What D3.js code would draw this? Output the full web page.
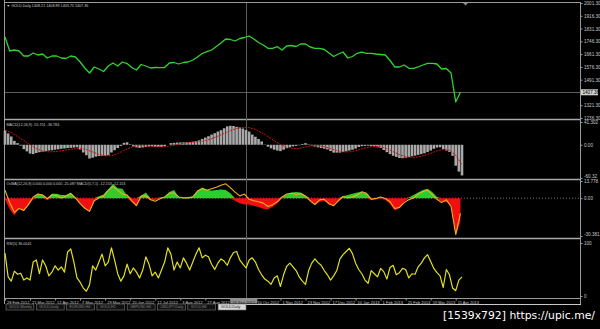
<!DOCTYPE html>
<html lang="en">
<head>
    <meta charset="UTF-8">
    <title>GOLD Daily</title>
    <script src="https://cdn.jsdelivr.net/npm/d3@7"></script>
    <style>
        html, body {
            margin: 0;
            background: #000;
        }
        svg { display: block; }
    </style>
</head>
<body>
<script>

    // daily bars from 28 Feb 2012 to Apr 2013, series sampled every few bars
    var barCount = 293;
    var priceStep = 3, macdStep = 2, signalStep = 4, osmaStep = 3, rsiStep = 2;

    var price = [
        1775.1, 1682.0, 1688.6, 1682.0, 1648.7, 1648.7, 1668.7, 1655.4, 1662.0, 1635.4,
        1648.7, 1648.7, 1635.4, 1632.1, 1648.7, 1642.1, 1608.8, 1568.9, 1535.6, 1575.6,
        1562.2, 1545.6, 1582.2, 1602.2, 1582.2, 1608.8, 1598.8, 1572.2, 1555.6, 1592.2,
        1582.2, 1568.9, 1572.2, 1570.9, 1572.2, 1602.2, 1605.5, 1595.5, 1605.5, 1608.8,
        1622.1, 1642.1, 1665.4, 1677.3, 1688.6, 1711.9, 1735.2, 1761.8, 1758.5, 1748.5,
        1765.1, 1771.8, 1781.8, 1761.8, 1738.5, 1721.9, 1699.9, 1699.9, 1710.6, 1688.6,
        1715.3, 1718.6, 1711.9, 1728.5, 1728.5, 1708.6, 1699.9, 1699.9, 1692.0, 1668.7,
        1645.4, 1662.0, 1675.3, 1635.4, 1645.4, 1666.7, 1675.3, 1666.7, 1666.7, 1662.0,
        1658.7, 1655.4, 1618.8, 1575.6, 1575.6, 1588.9, 1566.9, 1566.9, 1575.6, 1588.9,
        1600.2, 1600.2, 1595.5, 1562.3, 1565.6, 1535.6, 1342.7, 1407.4
    ];

    var macdMain = [
        25.8, 20.5, 15, 7, 3, -1.5, -8, -12, -16, -17,
        -15, -13.5, -12.6, -11.5, -10.5, -10, -9, -8.3, -7.3, -6.7,
        -6, -5.6, -5, -4.6, -8.6, -14, -19, -25, -23.5, -21.5,
        -20.5, -20, -20, -19, -14, -10, -6, -2, 3.5, 4.5,
        1, -3, -4.8, -5.6, -4.8, -4, -3.2, -3, -3.7, -4,
        -4, -3, 0, 3, 3.5, 4, 4.2, 4.4, 4.6, 5,
        5.6, 6.5, 8, 10.5, 13, 15.5, 18.5, 21, 24, 26.5,
        30, 33.5, 34.4, 34, 32.5, 31.5, 29.5, 27, 24, 18.5,
        14.5, 10.5, 6, 0.5, -3.5, -6.5, -9, -10.5, -11.5, -9,
        -6.3, -4.5, -3, -2, -0.8, 1.5, 2.9, 0.8, -1.5, -3.2,
        -4.6, -6, -7.2, -8.6, -11.5, -14.3, -14.3, -14.3, -13, -12,
        -10.5, -9, -7, -4, -2.6, -2, -1.7, -2.3, -3, -4.5,
        -5.7, -9.5, -13.5, -17, -20, -22, -24, -24.3, -23.5, -22.5,
        -21, -19.8, -18.3, -17, -15.5, -13.3, -10.5, -7.4, -5, -4.5,
        -8, -10.5, -13, -20, -38, -48.7, -55.7
    ];

    var macdSignal = [
        27, 22, 15, 8, 0, -7, -11.5, -13, -12.5, -11,
        -9, -7.5, -6.5, -8.5, -13, -17.5, -20, -20, -16, -10.5,
        -5, -2, -1.5, -3, -3.5, -3.8, -3, -1, 1.5, 3.5,
        4.5, 5.5, 7.5, 11, 15.5, 20.5, 25.5, 29.5, 31.5, 31,
        28, 22, 15, 7.5, 0.5, -4.5, -7, -6.5, -4, -2,
        -1.5, -3.5, -7, -10.5, -13, -13, -11, -7.5, -4.5, -3,
        -3.5, -7, -12.5, -18, -21.5, -23, -22, -19.5, -15.5, -11,
        -8.5, -10, -19, -36.8
    ];

    var osma = [
        -1, -9, -14, -8, -10, -5, -1, 3.5, 3, -1.5,
        3.5, 3.5, 2.5, 2.5, 4.5, 0.5, -4, -8, -11, -2,
        1.5, 3, 7, 11.5, 8, 7.5, 2, -3, -6.5, 2,
        4.5, -1.5, -1.5, 0.5, 1, 5, 6.5, 1, 0.5, 1,
        1.5, 6, 8.5, 7, 6, 6.5, 7, 6.5, 4, -2,
        -4, -5, -5, -6, -7, -8.5, -9, -7, -4, 0.5,
        3, 4.5, 5, 4.5, 2, -2, -5, -3, -2, -5,
        -6, -2, 1.5, 2.5, 3.5, 4.5, 5, 4, -1.5, -1,
        0.5, -1.5, -4.5, -10, -8, -3, 0.5, 2.5, 4.5, 6.5,
        7.5, 5, 1, -3, -3, -6, -30, -18.9
    ];

    var macdFast = [
        6.4, -3.6, -11.4, -8.3, -9.8, -5.2, 1.0, 3.3, 2.6, -0.5,
        2.6, 2.2, 0.2, 1.8, 3.7, 0.2, -4.4, -8.1, -10.6, -2.1,
        0.2, 1.8, 6.4, 9.5, 6.4, 3.3, 2.6, -2.1, -6.0, 1.8,
        1.8, -1.3, -2.5, -0.5, 1.0, 4.1, 4.1, 1.0, 0.2, 0.2,
        1.0, 5.7, 7.6, 6.4, 7.6, 8.8, 10.3, 11.5, 8.4, 4.9,
        1.8, 3.3, -0.9, -2.1, -2.9, -4.0, -6.7, -5.2, -2.9, 1.0,
        3.3, 3.9, 2.9, 3.7, 1.8, -2.1, -5.2, -1.3, -0.9, -4.4,
        -6.0, -2.1, 1.4, 0.2, 1.0, 2.6, 5.1, 3.9, -0.9, -0.2,
        1.0, -0.2, -2.9, -8.3, -7.5, -3.6, -1.3, 0.2, 3.3, 5.3,
        6.4, 2.9, -0.9, -3.6, -1.3, -6.7, -29.2, -12.2
    ];

    var rsi = [
        81, 36, 28, 47, 41, 43, 30, 34, 30, 64,
        68, 42, 68, 57, 38, 45, 57, 49, 55, 45,
        83, 89, 64, 34, 26, 15, 9, 21, 57, 49,
        64, 79, 57, 64, 91, 68, 42, 28, 38, 60,
        42, 53, 45, 34, 49, 74, 60, 38, 45, 34,
        49, 64, 91, 79, 49, 64, 53, 72, 62, 49,
        64, 79, 91, 72, 77, 74, 60, 50, 62, 70,
        66, 58, 72, 82, 84, 68, 60, 53, 68, 72,
        64, 50, 40, 32, 28, 22, 34, 38, 18, 40,
        56, 62, 55, 48, 36, 28, 22, 48, 62, 70,
        63, 58, 48, 40, 30, 38, 48, 70, 78, 84,
        90, 80, 62, 50, 42, 30, 24, 48, 42, 36,
        52, 46, 32, 54, 58, 40, 44, 52, 50, 34,
        42, 41, 55, 62, 72, 78, 65, 52, 44, 38,
        16, 50, 40, 15, 10, 30, 36
    ];

    var dateLabels = ["28 Feb 2012", "21 Mar 2012", "12 Apr 2012", "7 May 2012", "29 May 2012", "20 Jun 2012",
        "12 Jul 2012", "3 Aug 2012", "27 Aug 2012", "18 Sep 2012", "10 Oct 2012", "1 Nov 2012", "23 Nov 2012",
        "17 Dec 2012", "10 Jan 2013", "1 Feb 2013", "25 Feb 2013", "19 Mar 2013", "11 Apr 2013"];
    var barsPerLabel = 16;
    var crosshairLabel = 9;   // the date label that sits in the grey crosshair box

    var priceTicks = [2001.30, 1916.30, 1831.30, 1746.30, 1661.30, 1576.30, 1491.30, 1321.30, 1236.30];
    var macdTicks = [41.302, 0, -60.32];
    var macdTickText = ["41.302", "0.00", "-60.32"];
    var osmaTicks = [13.778, 0, -30.381];
    var osmaTickText = ["13.778", "0.00", "-30.381"];
    var rsiTicks = [100, 0];
    var lastPrice = 1407.36;

    var tabNames = ["GOLD,Weekly", "GOLD,Daily", "EURUSD,H4", "GOLD,H1", "GBPUSD,H4", "USDJPY,Daily", "GOLD,H4", "GOLD,Daily"];

    var titles = {
        price: "\u25BC GOLD,Daily  1408.21 1408.89 1403.75 1407.36",
        macd: "MACD(12,26,9) -55.701 -36.784",
        osma: "OsMA(12,26,9) 0.000 0.000 0.000 -25.087   MACD(5,7,1) -12.153 -12.153",
        rsi: "RSI(5) 36.0041"
    };

    // ---- scales
    var x = d3.scaleLinear().domain([0, barCount - 1]).range([5, 462]);
    var yPrice = d3.scaleLinear().domain([1236.3, 2001.3]).range([118, 3]);
    var yMacd = d3.scaleLinear().domain([-60.32, 41.302]).range([178, 122]);
    var yOsma = d3.scaleLinear().domain([-30.381, 13.778]).range([236, 181]);
    var yRsi = d3.scaleLinear().domain([0, 100]).range([296, 243]);

    var svg = d3.select('body').append('svg').attr('width', 600).attr('height', 329);
    svg.append('rect').attr('width', 600).attr('height', 329).attr('fill', '#000');

    var grid = '#9a9a9a';
    var font = 'Liberation Sans, Arial, sans-serif';

    // ---- frame
    svg.append('line').attr('x1', 4.5).attr('x2', 4.5).attr('y1', 0).attr('y2', 304).attr('stroke', grid);
    svg.append('line').attr('x1', 4).attr('x2', 581).attr('y1', 2.5).attr('y2', 2.5).attr('stroke', grid);
    [119.5, 179.5, 238.5].forEach(function (y) {
        svg.append('line').attr('x1', 4).attr('x2', 581).attr('y1', y).attr('y2', y)
            .attr('stroke', '#a8a8a8').attr('stroke-width', 1.6);
    });
    svg.append('line').attr('x1', 4).attr('x2', 581).attr('y1', 298.5).attr('y2', 298.5).attr('stroke', grid);
    svg.append('line').attr('x1', 580.5).attr('x2', 580.5).attr('y1', 2).attr('y2', 304.5).attr('stroke', grid);

    // crosshair + current price line
    svg.append('line').attr('x1', 246.5).attr('x2', 246.5).attr('y1', 3).attr('y2', 298)
        .attr('stroke', '#5c5c5c');
    svg.append('line').attr('x1', 5).attr('x2', 580).attr('y1', Math.round(yPrice(lastPrice)) + 0.5)
        .attr('y2', Math.round(yPrice(lastPrice)) + 0.5).attr('stroke', '#5c5c5c');
    svg.append('path').attr('d', 'M463,3 L468,3 L465.5,5.5 Z').attr('fill', '#8a8a8a');

    // OsMA zero level (dotted)
    svg.append('line').attr('x1', 5).attr('x2', 580).attr('y1', yOsma(0)).attr('y2', yOsma(0))
        .attr('stroke', '#8a8a8a').attr('stroke-width', 0.8).attr('stroke-dasharray', '1,2');

    // ---- price line
    var priceLine = d3.line()
        .x(function (d, i) { return x(i * priceStep); })
        .y(function (d) { return yPrice(d); });
    svg.append('path').attr('d', priceLine(price))
        .attr('fill', 'none').attr('stroke', '#2fd42f').attr('stroke-width', 1.3)
        .attr('stroke-linejoin', 'round');

    // ---- MACD histogram + signal
    svg.append('g').selectAll('rect').data(macdMain).enter().append('rect')
        .attr('x', function (d, i) { return x(i * macdStep) - 1.3; })
        .attr('width', 2.6)
        .attr('y', function (d) { return yMacd(Math.max(0, d)); })
        .attr('height', function (d) { return Math.abs(yMacd(d) - yMacd(0)); })
        .attr('fill', '#a9a9a9');

    var signalLine = d3.line()
        .x(function (d, i) { return x(i * signalStep); })
        .y(function (d) { return yMacd(d); });
    svg.append('path').attr('d', signalLine(macdSignal))
        .attr('fill', 'none').attr('stroke', '#d01010').attr('stroke-width', 1)
        .attr('stroke-dasharray', '2,1');

    // ---- OsMA fills + fast MACD line
    var osmaUp = d3.area()
        .x(function (d, i) { return x(i * osmaStep); })
        .y0(yOsma(0))
        .y1(function (d) { return yOsma(Math.max(0, d)); });
    var osmaDown = d3.area()
        .x(function (d, i) { return x(i * osmaStep); })
        .y0(yOsma(0))
        .y1(function (d) { return yOsma(Math.min(0, d)); });
    svg.append('path').attr('d', osmaUp(osma)).attr('fill', '#2ecc2e');
    svg.append('path').attr('d', osmaDown(osma)).attr('fill', '#f01010');

    var fastLine = d3.line()
        .x(function (d, i) { return x(i * osmaStep); })
        .y(function (d) { return yOsma(d); });
    svg.append('path').attr('d', fastLine(macdFast))
        .attr('fill', 'none').attr('stroke', '#f0b020').attr('stroke-width', 1.1)
        .attr('stroke-linejoin', 'round');

    // ---- RSI
    var rsiLine = d3.line()
        .x(function (d, i) { return x(i * rsiStep); })
        .y(function (d) { return yRsi(d); });
    svg.append('path').attr('d', rsiLine(rsi))
        .attr('fill', 'none').attr('stroke', '#e2e020').attr('stroke-width', 1.2)
        .attr('stroke-linejoin', 'round');

    // ---- right axes (top/bottom labels of a sub-window are pushed inside it)
    function rightAxis(scale, ticks, fmt, pushEnds) {
        var g = svg.append('g').attr('transform', 'translate(580.5,0)')
            .call(d3.axisRight(scale).tickValues(ticks).tickSize(2).tickPadding(1.5).tickFormat(fmt));
        g.select('.domain').remove();
        g.selectAll('line').attr('stroke', grid);
        g.selectAll('text').attr('fill', '#c8c8c8').attr('font-size', 4.6).attr('font-family', font);
        if (pushEnds) {
            var n = ticks.length;
            g.selectAll('.tick text').attr('dy', function (d, i) {
                return i === 0 ? '1.5' : (i === n - 1 ? '-0.5' : '0.32em');
            });
        }
        return g;
    }
    rightAxis(yPrice, priceTicks, d3.format('.2f'), false);
    rightAxis(yMacd, macdTicks, function (d, i) { return macdTickText[i]; }, true);
    rightAxis(yOsma, osmaTicks, function (d, i) { return osmaTickText[i]; }, true);
    rightAxis(yRsi, rsiTicks, d3.format('d'), false);

    // last price tag
    svg.append('rect').attr('x', 581).attr('y', yPrice(lastPrice) - 3).attr('width', 17).attr('height', 6)
        .attr('fill', '#d0d0d0');
    svg.append('text').attr('x', 582.5).attr('y', yPrice(lastPrice) + 1.6).text(lastPrice.toFixed(2))
        .attr('fill', '#000').attr('font-size', 4.6).attr('font-family', font);

    // ---- bottom date axis
    var dateBars = dateLabels.map(function (d, i) { return i * barsPerLabel; });
    svg.append('rect').attr('x', x(dateBars[crosshairLabel])).attr('y', 298.5)
        .attr('width', 27).attr('height', 5).attr('fill', '#8e8e8e');
    var xg = svg.append('g').attr('transform', 'translate(0,298.5)')
        .call(d3.axisBottom(x).tickValues(dateBars).tickSize(2).tickPadding(0.5)
            .tickFormat(function (d, i) { return dateLabels[i]; }));
    xg.select('.domain').remove();
    xg.selectAll('line').attr('stroke', grid);
    xg.selectAll('text').attr('font-size', 4).attr('font-family', font)
        .attr('fill', function (d, i) { return i === crosshairLabel ? '#222' : '#c8c8c8'; })
        .attr('text-anchor', 'start').attr('dx', 1.5);

    // ---- pane titles
    [[titles.price, 6.5], [titles.macd, 125.5], [titles.osma, 185], [titles.rsi, 244.5]].forEach(function (t) {
        svg.append('text').attr('x', 6.5).attr('y', t[1]).text(t[0])
            .attr('fill', '#c8c8c8').attr('font-size', 3.7).attr('font-family', font);
    });

    // ---- tab strip
    svg.append('line').attr('x1', 246).attr('x2', 581).attr('y1', 304.5).attr('y2', 304.5).attr('stroke', '#c8c8c8');
    var tabs = d3.scaleBand().domain(tabNames.map(function (d, i) { return i; })).range([6, 246]).paddingInner(0.08);
    var tabG = svg.append('g').selectAll('g').data(tabNames).enter().append('g')
        .attr('transform', function (d, i) { return 'translate(' + tabs(i) + ',304)'; });
    tabG.append('rect').attr('width', tabs.bandwidth()).attr('height', 6)
        .attr('fill', function (d, i) { return i === tabNames.length - 1 ? '#d8d8d8' : '#111'; })
        .attr('stroke', '#7a7a7a').attr('stroke-width', 0.6);
    tabG.append('text').attr('x', 3).attr('y', 4.3).text(function (d) { return d; })
        .attr('fill', function (d, i) { return i === tabNames.length - 1 ? '#111' : '#8a8a8a'; })
        .attr('font-size', 3.6).attr('font-family', font);

    // ---- watermark
    svg.append('text').attr('x', 443).attr('y', 318.5).text('[1539x792] https://upic.me/')
        .attr('fill', '#fff').attr('font-size', 10).attr('font-family', 'DejaVu Sans, sans-serif')
        .attr('textLength', 152).attr('lengthAdjust', 'spacingAndGlyphs');

</script>
</body>
</html>
